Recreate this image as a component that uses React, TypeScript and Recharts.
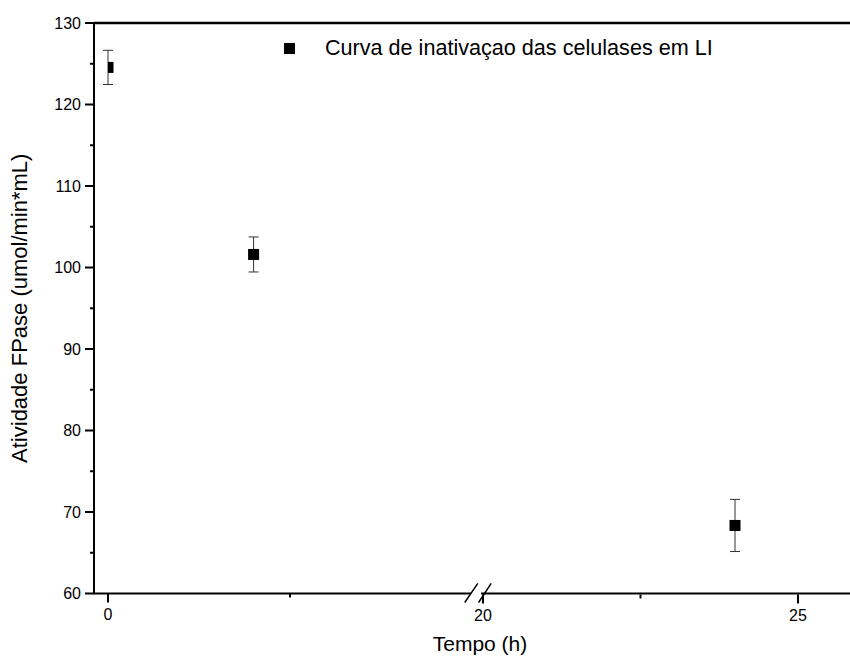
import React from 'react';
import { ComposedChart, Scatter, ErrorBar, XAxis, YAxis, ReferenceLine, Legend, Label } from 'recharts';

const FONTE = '"Liberation Sans", Arial, Helvetica, sans-serif';

// tempo (h), atividade FPase e desvio
const tempos = [0, 4, 24];
const atividade = [124.55, 101.6, 68.35];
const desvio = [2.1, 2.15, 3.2];

const FIM_TRECHO1 = 10;
const INICIO_TRECHO2 = 20;

const ticksAntes = [0, 5];
const ticksDepois = [20, 22.5, 25];
const rotulosX = [0, 20, 25];
const ticksY = [60, 65, 70, 75, 80, 85, 90, 95, 100, 105, 110, 115, 120, 125, 130];
const rotulosY = [60, 70, 80, 90, 100, 110, 120, 130];

const NOME_SERIE = 'Curva de inativaçao das celulases em LI';

const pontos = tempos.map((t, i) => ({ tempo: t, atividade: atividade[i], erro: desvio[i] }));
const antes = pontos.filter(p => p.tempo <= FIM_TRECHO1);
const depois = pontos.filter(p => p.tempo >= INICIO_TRECHO2);

const XTick = ({ x, y, payload }: any) => {
    const major = rotulosX.includes(payload.value);
    return (
        <g>
            <line x1={x} x2={x} y1={y} y2={y + (major ? 9 : 4)} stroke="#000" strokeWidth={2} />
            {major && (
                <text x={x} y={y + 21} textAnchor="middle" dominantBaseline="central" fontSize={16} fontFamily={FONTE} fill="#000">
                    {payload.value}
                </text>
            )}
        </g>
    );
};

const YTick = ({ x, y, payload }: any) => {
    const major = rotulosY.includes(payload.value);
    return (
        <g>
            <line x1={x - (major ? 9 : 4)} x2={x} y1={y} y2={y} stroke="#000" strokeWidth={2} />
            {major && (
                <text x={x - 13} y={y} textAnchor="end" dominantBaseline="central" fontSize={16} fontFamily={FONTE} fill="#000">
                    {payload.value}
                </text>
            )}
        </g>
    );
};

const Quadrado = ({ cx, cy }: any) => (
    <rect x={cx - 5.5} y={cy - 5.5} width={11} height={11} fill="#000" />
);

const LegendaConteudo = ({ payload }: any) => (
    <div style={{ fontFamily: FONTE, fontSize: 21.6, color: '#000' }}>
        {(payload || []).filter((e: any) => e.type !== 'none').map((e: any, i: number) => (
            <div key={i} style={{ display: 'flex', alignItems: 'center' }}>
                <svg width={11} height={11} style={{ marginRight: 30 }}>
                    <rect x={0} y={0} width={11} height={11} fill="#000" />
                </svg>
                <span>{e.value}</span>
            </div>
        ))}
    </div>
);

const App = () => {
    return (
        <div style={{ position: 'absolute', left: 0, top: 0, width: 850, height: 668, overflow: 'hidden', background: '#fff', fontFamily: FONTE }}>
            <ComposedChart width={861} height={668} margin={{ top: 23, right: 0, bottom: 72.5, left: 0 }}>
                <XAxis
                    xAxisId="a"
                    type="number"
                    dataKey="tempo"
                    domain={[0, FIM_TRECHO1]}
                    allowDataOverflow
                    padding={{ left: 14, right: 389 }}
                    ticks={ticksAntes}
                    interval={0}
                    tick={<XTick />}
                    tickLine={false}
                    tickSize={0}
                    tickMargin={0}
                    axisLine={false}
                    height={1}
                />
                <XAxis
                    xAxisId="b"
                    type="number"
                    dataKey="tempo"
                    domain={[INICIO_TRECHO2, 26]}
                    allowDataOverflow
                    padding={{ left: 389, right: 0 }}
                    ticks={ticksDepois}
                    interval={0}
                    tick={<XTick />}
                    tickLine={false}
                    tickSize={0}
                    tickMargin={0}
                    axisLine={false}
                    height={1}
                >
                    <Label
                        content={({ viewBox }: any) => (
                            <text x={480} y={viewBox.y + 49} textAnchor="middle" dominantBaseline="central" fontSize={21} fontFamily={FONTE} fill="#000">
                                Tempo (h)
                            </text>
                        )}
                    />
                </XAxis>
                <YAxis
                    type="number"
                    dataKey="atividade"
                    domain={[60, 130]}
                    ticks={ticksY}
                    interval={0}
                    width={94}
                    tick={<YTick />}
                    tickLine={false}
                    tickSize={0}
                    tickMargin={0}
                    axisLine={{ stroke: '#000', strokeWidth: 2 }}
                >
                    <Label
                        content={({ viewBox }: any) => (
                            <text
                                transform={`translate(${viewBox.x + 19}, ${viewBox.y + viewBox.height / 2}) rotate(-90)`}
                                textAnchor="middle"
                                dominantBaseline="central"
                                fontSize={22}
                                fontFamily={FONTE}
                                fill="#000"
                            >
                                Atividade FPase (umol/min*mL)
                            </text>
                        )}
                    />
                </YAxis>
                <Legend
                    layout="horizontal"
                    verticalAlign="middle"
                    align="center"
                    content={<LegendaConteudo />}
                    wrapperStyle={{ top: 35, left: 284, width: 520 }}
                />

                {/* moldura superior e eixo X com quebra */}
                <ReferenceLine xAxisId="a" y={130} stroke="#000" strokeWidth={2.5} />
                <ReferenceLine xAxisId="a" segment={[{ x: -0.4, y: 60 }, { x: 9.97, y: 60 }]} stroke="#000" strokeWidth={2} ifOverflow="visible" />
                <ReferenceLine xAxisId="b" segment={[{ x: 19.97, y: 60 }, { x: 26, y: 60 }]} stroke="#000" strokeWidth={2} ifOverflow="visible" />
                <ReferenceLine xAxisId="a" segment={[{ x: 9.8, y: 58.9 }, { x: 10.16, y: 61.25 }]} stroke="#000" strokeWidth={1.5} ifOverflow="visible" />
                <ReferenceLine xAxisId="b" segment={[{ x: 19.93, y: 58.9 }, { x: 20.13, y: 61.25 }]} stroke="#000" strokeWidth={1.5} ifOverflow="visible" />

                <Scatter xAxisId="a" name={NOME_SERIE} data={antes} fill="#000" shape={<Quadrado />} isAnimationActive={false}>
                    <ErrorBar dataKey="erro" direction="y" width={5} stroke="#333" strokeWidth={1} />
                </Scatter>
                <Scatter xAxisId="b" name={NOME_SERIE} data={depois} fill="#000" shape={<Quadrado />} legendType="none" isAnimationActive={false}>
                    <ErrorBar dataKey="erro" direction="y" width={5} stroke="#333" strokeWidth={1} />
                </Scatter>
            </ComposedChart>
        </div>
    );
};

export default App;
